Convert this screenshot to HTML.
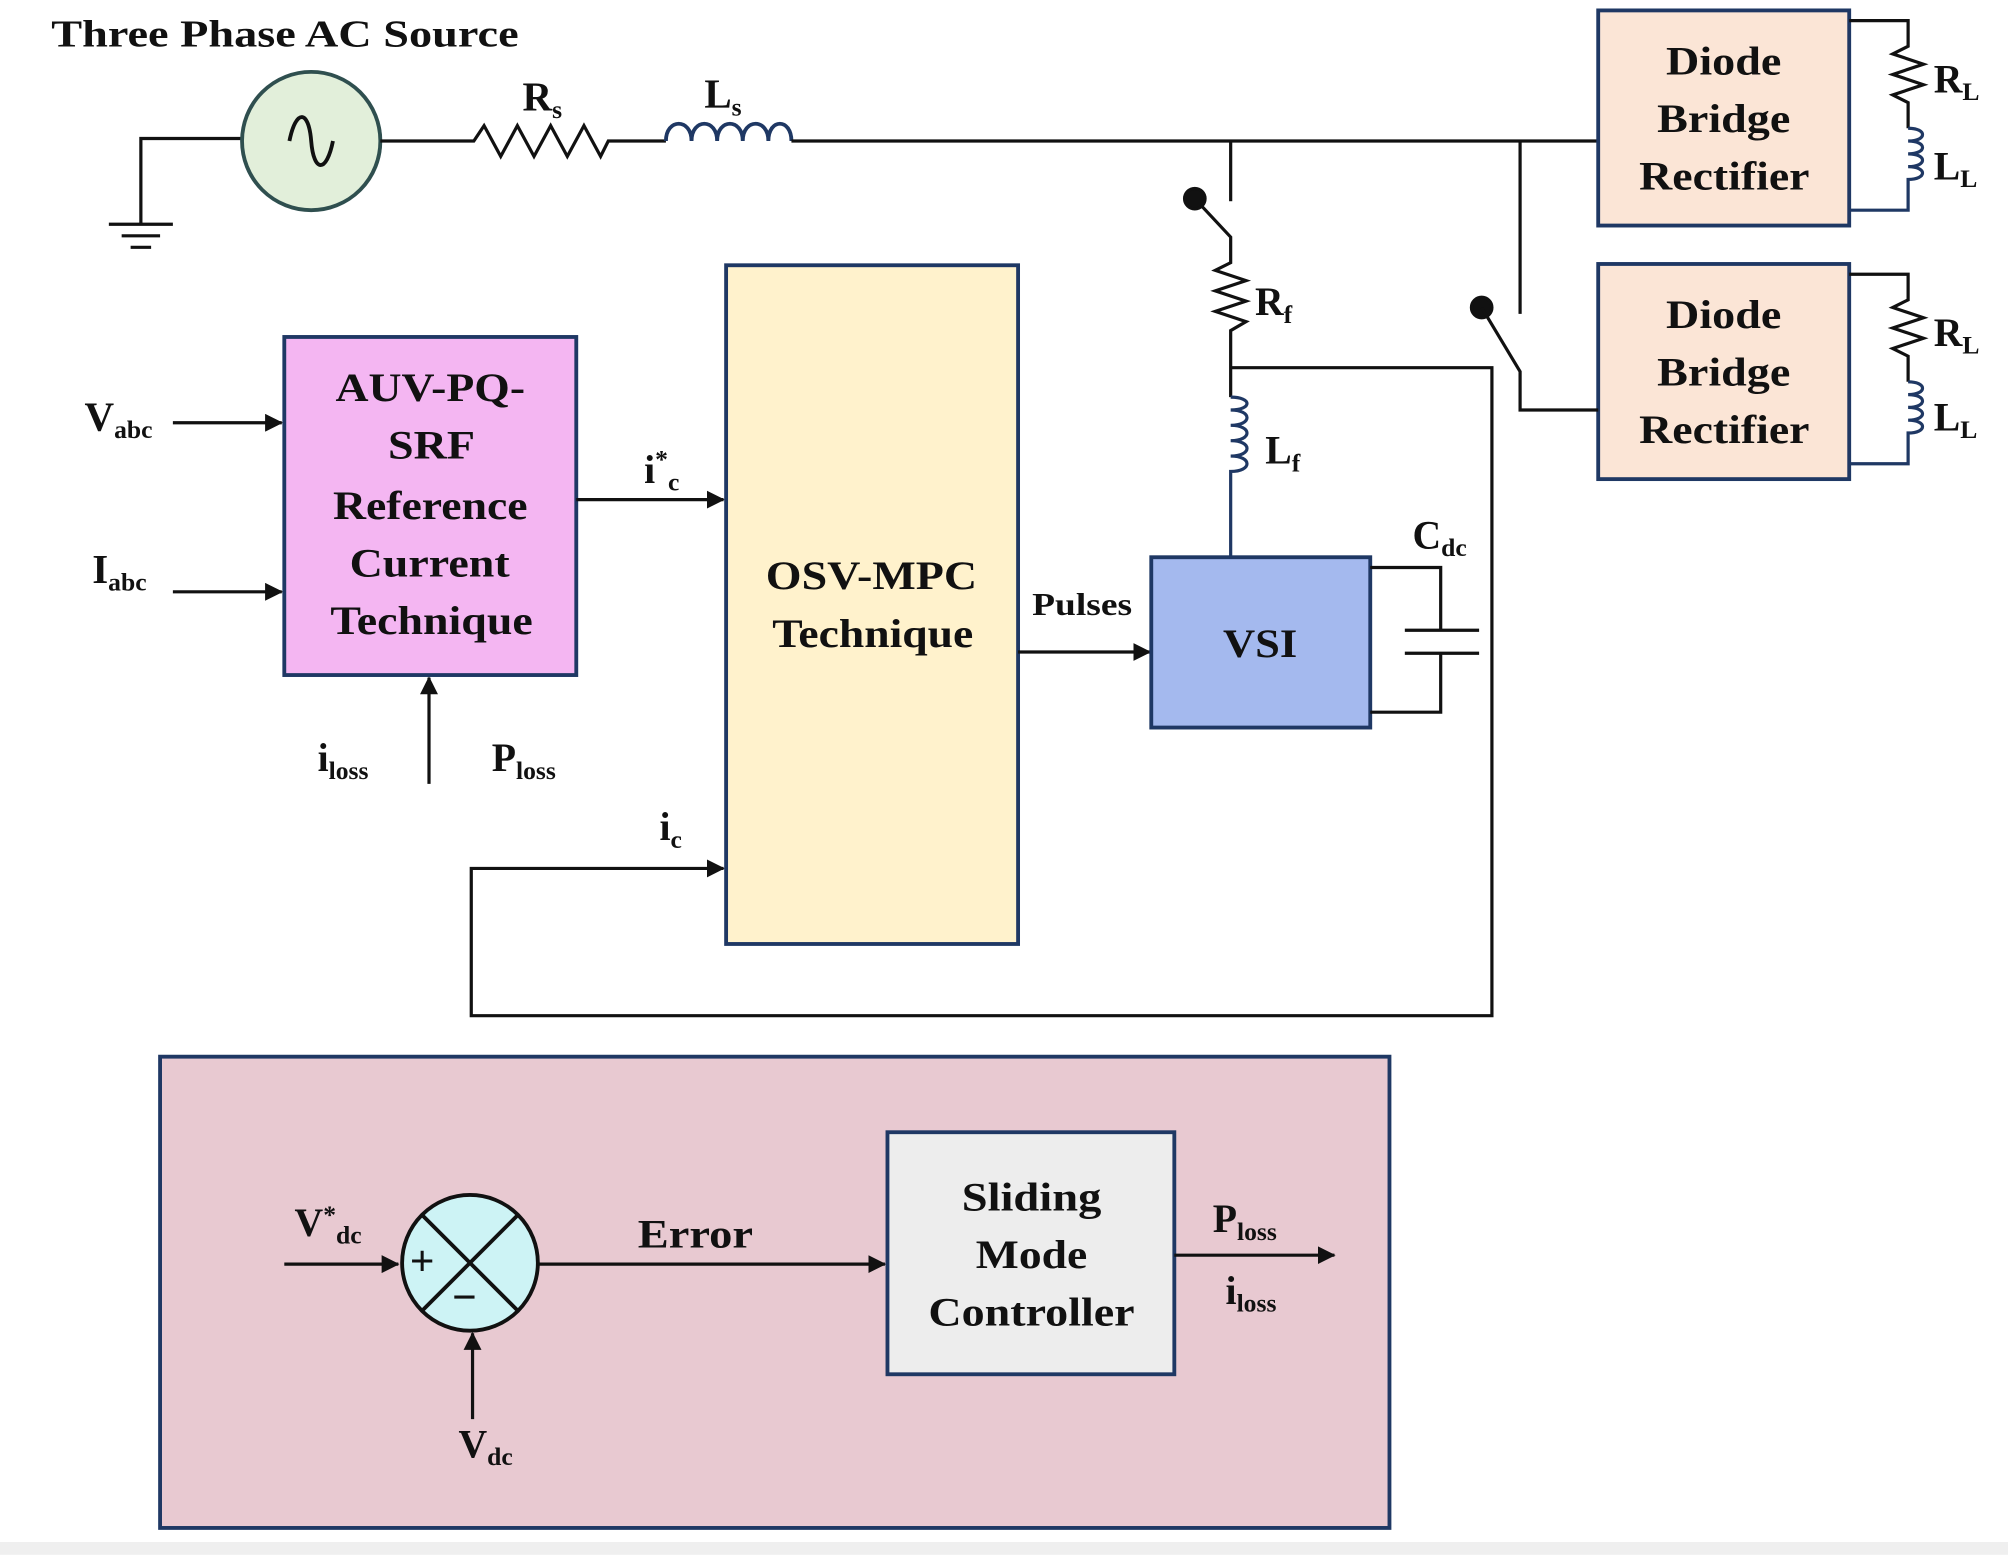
<!DOCTYPE html>
<html><head><meta charset="utf-8"><style>
html,body{margin:0;padding:0;background:#fff;}
svg{display:block;}
text{font-family:"Liberation Serif",serif;font-weight:bold;fill:#111;}
</style></head><body>
<svg width="2008" height="1555" viewBox="0 0 1568 1214" xmlns="http://www.w3.org/2000/svg">
<defs><marker id="b" markerWidth="14" markerHeight="14" refX="13" refY="7" orient="auto" markerUnits="userSpaceOnUse"><path d="M0,0 L14,7 L0,14 z" fill="#111"/></marker></defs>
<rect x="0" y="1204" width="1568" height="10" fill="#efefef"/>
<g stroke="#111" stroke-width="2.5" fill="none">
<path d="M190,108 H110 V175 M85,175 H135 M95,184 H125 M102,193 H118"/>
<circle cx="243" cy="110" r="54" fill="#e2efda" stroke="#2f4f4f" stroke-width="3"/>
<path d="M226,110 C231,85 241,85 243,110 C245,135 255,135 260,110" stroke-width="3"/>
<path d="M297,110 H370 L378,98 L391,122 L404,98 L417,122 L430,98 L443,122 L456,98 L469,122 L475,110 H520"/>
<path d="M520,110 C520,92 540,92 540,110 C540,92 560,92 560,110 C560,92 580,92 580,110 C580,92 600,92 600,110 C600,92 618,92 618,110" stroke="#1f3864" stroke-width="3"/>
<path d="M618,110 H1248"/>
<rect x="1248" y="8" width="196" height="168" fill="#fbe5d6" stroke="#1f3864" stroke-width="3"/>
<rect x="1248" y="206" width="196" height="168" fill="#fbe5d6" stroke="#1f3864" stroke-width="3"/>
<path d="M1444,16 H1490 V36 L1478,42 L1502,50 L1478,58 L1502,66 L1478,74 L1490,80 V100"/>
<path d="M1490,100 C1505,100 1505,110 1490,110 C1505,110 1505,120 1490,120 C1505,120 1505,130 1490,130 C1505,130 1505,140 1490,140 V164 H1444" stroke="#1f3864"/>
<path d="M1444,214 H1490 V234 L1478,240 L1502,248 L1478,256 L1502,264 L1478,272 L1490,278 V298"/>
<path d="M1490,298 C1505,298 1505,308 1490,308 C1505,308 1505,318 1490,318 C1505,318 1505,328 1490,328 C1505,328 1505,338 1490,338 V362 H1444" stroke="#1f3864"/>
<path d="M961,110 V157"/>
<circle cx="933" cy="155" r="8" fill="#111"/>
<path d="M933,155 L961,185 V205 L949,211 L973,219 L949,227 L973,235 L949,243 L973,251 L961,258 V310"/>
<path d="M961,310 C978,310 978,320 961,320 C978,320 978,332 961,332 C978,332 978,344 961,344 C978,344 978,356 961,356 C978,356 978,368 961,368 V435" stroke="#1f3864"/>
<path d="M961,287 H1165 V793 H368 V678 H565" marker-end="url(#b)"/>
<path d="M1187,110 V245"/>
<circle cx="1157" cy="240" r="8" fill="#111"/>
<path d="M1157,240 L1187,290 V320 H1248"/>
<rect x="222" y="263" width="228" height="264" fill="#f4b6f2" stroke="#1f3864" stroke-width="3"/>
<path d="M135,330 H220" marker-end="url(#b)"/>
<path d="M135,462 H220" marker-end="url(#b)"/>
<path d="M335,612 V529" marker-end="url(#b)"/>
<path d="M450,390 H565" marker-end="url(#b)"/>
<rect x="567" y="207" width="228" height="530" fill="#fff2cc" stroke="#1f3864" stroke-width="3"/>
<path d="M795,509 H898" marker-end="url(#b)"/>
<rect x="899" y="435" width="171" height="133" fill="#a4b9ee" stroke="#1f3864" stroke-width="3"/>
<path d="M1070,443 H1125 V492 M1097,492 H1155 M1097,510 H1155 M1125,510 V556 H1070"/>
<rect x="125" y="825" width="960" height="368" fill="#e8c9d1" stroke="#1f3864" stroke-width="3"/>
<circle cx="367" cy="986" r="53" fill="#cdf3f5" stroke="#111" stroke-width="3"/>
<path d="M330,949 L404,1023 M404,949 L330,1023" stroke-width="3"/>
<path d="M222,987 H311" marker-end="url(#b)"/>
<path d="M369,1108 V1041" marker-end="url(#b)"/>
<path d="M420,987 H691" marker-end="url(#b)"/>
<rect x="693" y="884" width="224" height="189" fill="#ededed" stroke="#1f3864" stroke-width="3"/>
<path d="M917,980 H1042" marker-end="url(#b)"/>
</g>
<g font-size="31" lengthAdjust="spacingAndGlyphs">
<text x="40" y="36" font-size="30" textLength="365" lengthAdjust="spacingAndGlyphs">Three Phase AC Source</text>
<text x="408" y="86" font-size="32">R<tspan font-size="20" dy="6">s</tspan></text>
<text x="550" y="84" font-size="32">L<tspan font-size="20" dy="6">s</tspan></text>
<text x="1301" y="58" textLength="90" lengthAdjust="spacingAndGlyphs">Diode</text>
<text x="1294" y="103" textLength="104" lengthAdjust="spacingAndGlyphs">Bridge</text>
<text x="1280" y="148" textLength="133" lengthAdjust="spacingAndGlyphs">Rectifier</text>
<text x="1301" y="256" textLength="90" lengthAdjust="spacingAndGlyphs">Diode</text>
<text x="1294" y="301" textLength="104" lengthAdjust="spacingAndGlyphs">Bridge</text>
<text x="1280" y="346" textLength="133" lengthAdjust="spacingAndGlyphs">Rectifier</text>
<text x="1510" y="72">R<tspan font-size="20" dy="6">L</tspan></text>
<text x="1510" y="140">L<tspan font-size="20" dy="6">L</tspan></text>
<text x="1510" y="270">R<tspan font-size="20" dy="6">L</tspan></text>
<text x="1510" y="336">L<tspan font-size="20" dy="6">L</tspan></text>
<text x="980" y="246">R<tspan font-size="20" dy="6">f</tspan></text>
<text x="988" y="362">L<tspan font-size="20" dy="6">f</tspan></text>
<text x="1103" y="428">C<tspan font-size="20" dy="6">dc</tspan></text>
<text x="262" y="313" textLength="148" lengthAdjust="spacingAndGlyphs">AUV-PQ-</text>
<text x="303" y="358" textLength="68" lengthAdjust="spacingAndGlyphs">SRF</text>
<text x="260" y="405" textLength="152" lengthAdjust="spacingAndGlyphs">Reference</text>
<text x="273" y="450" textLength="125" lengthAdjust="spacingAndGlyphs">Current</text>
<text x="258" y="495" textLength="158" lengthAdjust="spacingAndGlyphs">Technique</text>
<text x="66" y="336" font-size="32">V<tspan font-size="20" dy="6">abc</tspan></text>
<text x="72" y="455" font-size="32">I<tspan font-size="20" dy="6">abc</tspan></text>
<text x="248" y="602">i<tspan font-size="20" dy="6">loss</tspan></text>
<text x="384" y="602">P<tspan font-size="20" dy="6">loss</tspan></text>
<text x="503" y="377">i<tspan font-size="20" dy="-12">*</tspan><tspan font-size="20" dy="18">c</tspan></text>
<text x="515" y="656">i<tspan font-size="20" dy="6">c</tspan></text>
<text x="598" y="460" textLength="165" lengthAdjust="spacingAndGlyphs">OSV-MPC</text>
<text x="603" y="505" textLength="157" lengthAdjust="spacingAndGlyphs">Technique</text>
<text x="806" y="480" font-size="25" textLength="78" lengthAdjust="spacingAndGlyphs">Pulses</text>
<text x="955" y="513" textLength="58" lengthAdjust="spacingAndGlyphs">VSI</text>
<text x="230" y="965">V<tspan font-size="20" dy="-10">*</tspan><tspan font-size="20" dy="16">dc</tspan></text>
<text x="320" y="996" font-size="34">+</text>
<text x="353" y="1024" font-size="34">−</text>
<text x="358" y="1138">V<tspan font-size="20" dy="6">dc</tspan></text>
<text x="498" y="974" textLength="90" lengthAdjust="spacingAndGlyphs">Error</text>
<text x="751" y="945" textLength="109" lengthAdjust="spacingAndGlyphs">Sliding</text>
<text x="762" y="990" textLength="87" lengthAdjust="spacingAndGlyphs">Mode</text>
<text x="725" y="1035" textLength="161" lengthAdjust="spacingAndGlyphs">Controller</text>
<text x="947" y="962">P<tspan font-size="20" dy="6">loss</tspan></text>
<text x="957" y="1018">i<tspan font-size="20" dy="6">loss</tspan></text>
</g>
</svg>
</body></html>
